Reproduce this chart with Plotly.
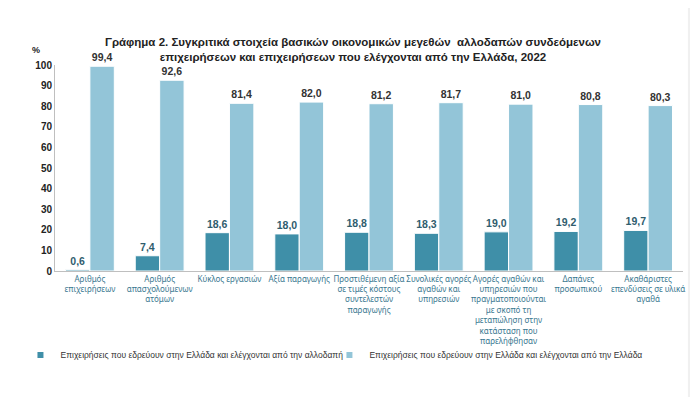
import plotly.graph_objects as go

categories = [
    "Αριθμός<br>επιχειρήσεων",
    "Αριθμός<br>απασχολούμενων<br>ατόμων",
    "Κύκλος εργασιών",
    "Αξία παραγωγής",
    "Προστιθέμενη αξία<br>σε τιμές κόστους<br>συντελεστών<br>παραγωγής",
    "Συνολικές αγορές<br>αγαθών και<br>υπηρεσιών",
    "Αγορές αγαθών και<br>υπηρεσιών που<br>πραγματοποιούνται<br>με σκοπό τη<br>μεταπώληση στην<br>κατάσταση που<br>παρελήφθησαν",
    "Δαπάνες<br>προσωπικού",
    "Ακαθάριστες<br>επενδύσεις σε υλικά<br>αγαθά",
]
foreign = [0.6, 7.4, 18.6, 18.0, 18.8, 18.3, 19.0, 19.2, 19.7]
greek = [99.4, 92.6, 81.4, 82.0, 81.2, 81.7, 81.0, 80.8, 80.3]
series_names = [
    "Επιχειρήσεις που εδρεύουν στην Ελλάδα και ελέγχονται από την αλλοδαπή",
    "Επιχειρήσεις που εδρεύουν στην Ελλάδα και ελέγχονται από την Ελλάδα",
]
colors = ["#3f8fa8", "#93c5d8"]
y_ticks = [0, 10, 20, 30, 40, 50, 60, 70, 80, 90, 100]

x = list(range(len(categories)))
FONT = "Liberation Sans, Arial, sans-serif"

fig = go.Figure()
fig.add_trace(go.Bar(
    x=x, y=foreign, name=series_names[0], showlegend=False,
    marker=dict(color=colors[0], line=dict(color="white", width=1)),
    texttemplate="<b>%{y:.1f}</b>", textposition="outside", cliponaxis=False,
    textfont=dict(family=FONT, size=10.5, color="#2f5d6e"),
))
fig.add_trace(go.Bar(
    x=x, y=greek, name=series_names[1], showlegend=False,
    marker=dict(color=colors[1], line=dict(color="white", width=1)),
    texttemplate="<b>%{y:.1f}</b>", textposition="outside", cliponaxis=False,
    textfont=dict(family=FONT, size=10.5, color="#333333"),
))
# legend entries with small square markers
for name, col, lg in zip(series_names, colors, ["legend", "legend2"]):
    fig.add_trace(go.Scatter(
        x=[None], y=[None], mode="markers", name=name, legend=lg,
        marker=dict(symbol="square", size=6, color=col),
        showlegend=True, hoverinfo="skip",
    ))

legend_common = dict(
    orientation="h", yanchor="middle", y=-0.408,
    font=dict(family=FONT, size=8.5, color="#333333"),
    itemwidth=30, bgcolor="rgba(0,0,0,0)",
)

fig.update_layout(
    width=690, height=389,
    margin=dict(l=33, r=15, t=57, b=126),
    paper_bgcolor="white", plot_bgcolor="white",
    separators=",.",
    barmode="group", bargap=0.3, bargroupgap=0,
    title=dict(
        text="<b>Γράφημα 2. Συγκριτικά στοιχεία βασικών οικονομικών μεγεθών  αλλοδαπών συνδεόμενων<br>επιχειρήσεων και επιχειρήσεων που ελέγχονται από την Ελλάδα, 2022</b>",
        x=0.5, xanchor="center", y=0.903, yanchor="middle",
        font=dict(family=FONT, size=11.5, color="#222222"),
    ),
    font=dict(family=FONT, color="#222222"),
    showlegend=True,
    legend=dict(x=-0.055, xanchor="left", **legend_common),
    legend2=dict(x=0.437, xanchor="left", **legend_common),
    xaxis=dict(
        tickmode="array", tickvals=x, ticktext=categories,
        range=[-0.5, len(categories) - 0.5],
        showline=True, linecolor="#bfbfbf", linewidth=1,
        ticks="", showgrid=False,
        tickfont=dict(family="Noto Sans, sans-serif", size=8, color="#3a7890"),
        tickangle=0,
    ),
    yaxis=dict(
        range=[0, 100], tickmode="array", tickvals=y_ticks,
        ticktext=[f"<b>{v}</b>" for v in y_ticks],
        showline=True, linecolor="#bfbfbf", linewidth=1,
        showgrid=False, zeroline=False, ticks="",
        tickfont=dict(family=FONT, size=10, color="#222222"),
    ),
    annotations=[dict(
        text="<b>%</b>", xref="paper", yref="paper", x=-0.02, y=1.073,
        xanchor="right", yanchor="middle", showarrow=False,
        font=dict(family=FONT, size=9, color="#222222"),
    )],
    shapes=[dict(
        type="rect", xref="paper", yref="paper", x0=1.0078, x1=1.03, y0=-0.62, y1=1.3,
        fillcolor="#f0f0f0", line=dict(width=0), layer="below",
    )],
)

fig.write_html("out.html")
